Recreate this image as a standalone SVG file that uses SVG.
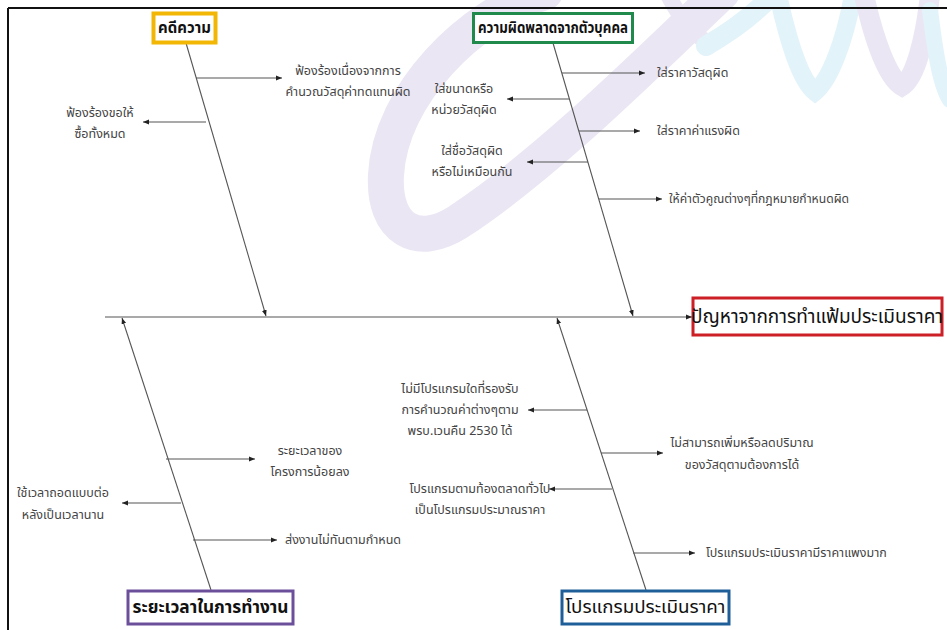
<svg xmlns="http://www.w3.org/2000/svg" width="947" height="630" viewBox="0 0 947 630">
<style>
.bone{stroke:#555;stroke-width:1.1;fill:none;marker-end:url(#arr)}
.lbl{font-family:"Noto Sans Thai","Noto Serif Thai","Liberation Serif",serif;font-size:12.5px;fill:#444}
.cat{font-family:"Noto Sans Thai","Noto Serif Thai","Liberation Sans",sans-serif;font-size:15px;font-weight:bold;fill:#111}
.head{font-family:"Noto Sans Thai","Noto Serif Thai","Liberation Serif",serif;font-size:19px;fill:#111}
.mid{text-anchor:middle}
.wm{fill:none;stroke-linecap:round}
.lav{stroke:#ebe6f4}
.cy{stroke:#e3f3fa}
</style>
<defs>
<marker id="arr" viewBox="0 0 10 10" refX="10" refY="5" markerWidth="6" markerHeight="6" orient="auto" markerUnits="userSpaceOnUse">
<path d="M0,1 L10,5 L0,9 z" fill="#222"/>
</marker>
</defs>
<rect x="0" y="0" width="947" height="630" fill="#fff"/>
<g id="watermark">
<path class="wm lav" d="M545,-8 C470,15 390,95 386,175 C383,230 418,248 458,222 C545,165 640,70 722,-8" stroke-width="36"/>
<path class="wm lav" d="M668,-5 C680,18 695,38 712,44" stroke-width="16"/>
<path class="wm cy" d="M706,46 C730,32 755,14 772,-5" stroke-width="20"/>
<path class="wm cy" d="M778,-5 C788,40 800,80 815,92 C830,80 845,40 853,-5" stroke-width="18"/>
<path class="wm lav" d="M864,-5 C874,40 888,78 902,86 C915,78 925,40 930,-5" stroke-width="20"/>
<path class="wm cy" d="M930,10 C935,50 940,85 950,100" stroke-width="16"/>
</g>
<g id="frame">
<line x1="8" y1="8" x2="947" y2="8" stroke="#111" stroke-width="2"/>
<line x1="8" y1="8" x2="8" y2="630" stroke="#111" stroke-width="2"/>
</g>
<g id="connectors">
<line class="bone" x1="105" y1="317" x2="692" y2="317"/>
<line class="bone" x1="186" y1="43" x2="266" y2="316"/>
<line class="bone" x1="553" y1="43" x2="633" y2="316"/>
<line class="bone" x1="211" y1="590" x2="122" y2="318"/>
<line class="bone" x1="646" y1="590" x2="557" y2="318"/>
<line class="bone" x1="196" y1="78" x2="282" y2="78"/>
<line class="bone" x1="206" y1="122" x2="143" y2="122"/>
<line class="bone" x1="562" y1="73" x2="645" y2="73"/>
<line class="bone" x1="569" y1="99" x2="507" y2="99"/>
<line class="bone" x1="579" y1="131" x2="640" y2="131"/>
<line class="bone" x1="588" y1="162" x2="527" y2="162"/>
<line class="bone" x1="599" y1="199" x2="662" y2="199"/>
<line class="bone" x1="166" y1="459" x2="255" y2="459"/>
<line class="bone" x1="181" y1="503" x2="122" y2="503"/>
<line class="bone" x1="193" y1="540" x2="277" y2="540"/>
<line class="bone" x1="587" y1="410" x2="528" y2="410"/>
<line class="bone" x1="601" y1="453" x2="663" y2="453"/>
<line class="bone" x1="612" y1="489" x2="549" y2="489"/>
<line class="bone" x1="633" y1="553" x2="695" y2="553"/>
</g>
<g id="head">
<rect x="693" y="298" width="249" height="37" fill="#fff" stroke="#cc1f26" stroke-width="3"/>
<text class="head mid" x="817" y="323">ปัญหาจากการทำแฟ้มประเมินราคา</text>
</g>
<g id="cat-lawsuit">
<rect x="153.5" y="13.5" width="62" height="29" fill="#fff" stroke="#f2b705" stroke-width="4"/>
<text class="cat mid" x="184.5" y="33">คดีความ</text>
</g>
<g id="cat-person">
<rect x="473.5" y="13.5" width="159" height="29" fill="#fff" stroke="#1f8a4c" stroke-width="3"/>
<text class="cat mid" x="553" y="33" textLength="150" lengthAdjust="spacingAndGlyphs">ความผิดพลาดจากตัวบุคคล</text>
</g>
<g id="cat-time">
<rect x="128" y="591" width="165" height="33" fill="#fff" stroke="#6b4f9a" stroke-width="3"/>
<text class="cat mid" x="210.5" y="613" style="font-size:17px" textLength="156" lengthAdjust="spacingAndGlyphs">ระยะเวลาในการทำงาน</text>
</g>
<g id="cat-program">
<rect x="562" y="591" width="167" height="33" fill="#fff" stroke="#1f5f99" stroke-width="3"/>
<text class="cat mid" x="645.5" y="613" style="font-size:18px;font-weight:normal" textLength="160" lengthAdjust="spacingAndGlyphs">โปรแกรมประเมินราคา</text>
</g>
<g id="c1">
<text class="lbl mid" x="348" y="75">ฟ้องร้องเนื่องจากการ</text>
<text class="lbl mid" x="348" y="96">คำนวณวัสดุค่าทดแทนผิด</text>
</g>
<g id="c2">
<text class="lbl mid" x="100" y="117">ฟ้องร้องขอให้</text>
<text class="lbl mid" x="100" y="138">ซื้อทั้งหมด</text>
</g>
<g id="c3"><text class="lbl" x="657" y="77">ใส่ราคาวัสดุผิด</text></g>
<g id="c4">
<text class="lbl mid" x="464" y="93">ใส่ขนาดหรือ</text>
<text class="lbl mid" x="464" y="114">หน่วยวัสดุผิด</text>
</g>
<g id="c5"><text class="lbl" x="657" y="135">ใส่ราคาค่าแรงผิด</text></g>
<g id="c6">
<text class="lbl mid" x="472" y="155">ใส่ชื่อวัสดุผิด</text>
<text class="lbl mid" x="472" y="176">หรือไม่เหมือนกัน</text>
</g>
<g id="c7"><text class="lbl" x="669" y="203" textLength="180" lengthAdjust="spacingAndGlyphs">ให้ค่าตัวคูณต่างๆที่กฎหมายกำหนดผิด</text></g>
<g id="c8">
<text class="lbl mid" x="310" y="455">ระยะเวลาของ</text>
<text class="lbl mid" x="310" y="476">โครงการน้อยลง</text>
</g>
<g id="c9">
<text class="lbl mid" x="63" y="497">ใช้เวลาถอดแบบต่อ</text>
<text class="lbl mid" x="63" y="519">หลังเป็นเวลานาน</text>
</g>
<g id="c10"><text class="lbl" x="285" y="544">ส่งงานไม่ทันตามกำหนด</text></g>
<g id="c11">
<text class="lbl mid" x="460" y="393">ไม่มีโปรแกรมใดที่รองรับ</text>
<text class="lbl mid" x="460" y="414">การคำนวณค่าต่างๆตาม</text>
<text class="lbl mid" x="460" y="435">พรบ.เวนคืน 2530 ได้</text>
</g>
<g id="c12">
<text class="lbl mid" x="742" y="447">ไม่สามารถเพิ่มหรือลดปริมาณ</text>
<text class="lbl mid" x="742" y="469">ของวัสดุตามต้องการได้</text>
</g>
<g id="c13">
<text class="lbl mid" x="480" y="493">โปรแกรมตามท้องตลาดทั่วไป</text>
<text class="lbl mid" x="480" y="514">เป็นโปรแกรมประมาณราคา</text>
</g>
<g id="c14"><text class="lbl" x="706" y="557">โปรแกรมประเมินราคามีราคาแพงมาก</text></g>
</svg>
